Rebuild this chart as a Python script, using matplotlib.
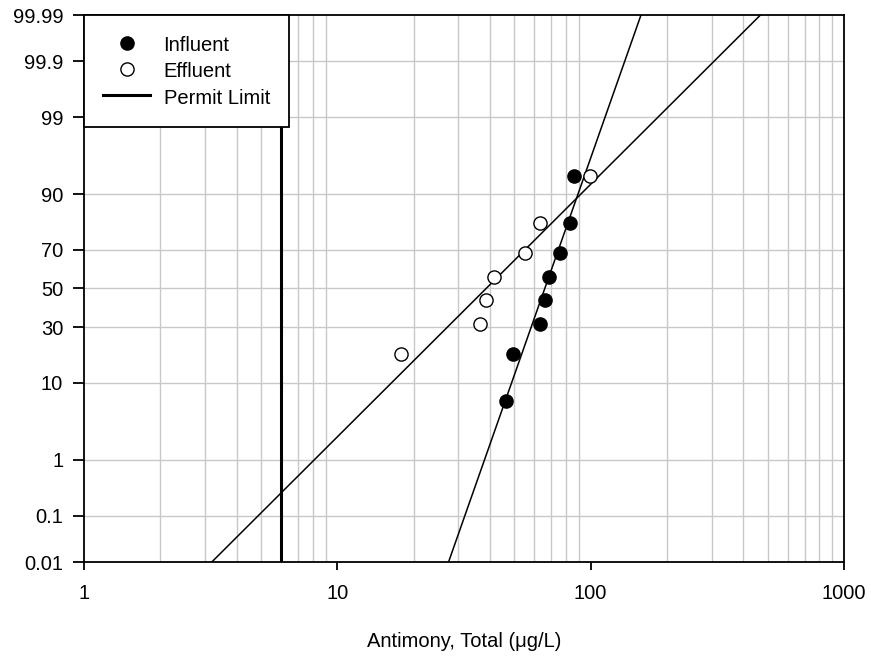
import numpy as np
import matplotlib
matplotlib.use("Agg")
import matplotlib.pyplot as plt
from statistics import NormalDist

plt.rcParams['font.family'] = ['Liberation Sans', 'DejaVu Sans']

# Data (ug/L) and cumulative probability (%)
influent_x = [46.4, 49.4, 63.3, 66.3, 68.3, 75.9, 82.9, 86.0]
influent_p = [6.25, 18.75, 31.25, 43.75, 56.25, 68.75, 81.25, 93.75]
effluent_x = [17.8, 36.6, 38.5, 41.6, 55.3, 63.3, 99.0]
effluent_p = [18.75, 31.25, 43.75, 56.25, 68.75, 81.25, 93.75]
permit_limit = 6.0

y_ticks = [0.01, 0.1, 1, 10, 30, 50, 70, 90, 99, 99.9, 99.99]
y_tick_labels = ["0.01", "0.1", "1", "10", "30", "50", "70", "90", "99", "99.9", "99.99"]
x_ticks = [1, 10, 100, 1000]
x_tick_labels = ["1", "10", "100", "1000"]

nd = NormalDist()
def z(p):
    return np.array([nd.inv_cdf(v / 100.0) for v in np.atleast_1d(p)])

FS = 14.5

fig = plt.figure(figsize=(8.71, 6.62), dpi=100)
ax = fig.add_axes([84/871, 1-562/662, (844-84)/871, (562-15)/662])

ax.set_xscale('log')
ax.set_xlim(1, 1000)
ylo, yhi = z(0.01)[0], z(99.99)[0]
ax.set_ylim(ylo, yhi)

grid_c = '#c8c8c8'
# grid
for dec in [1, 10, 100]:
    for m in range(2, 10):
        ax.axvline(dec*m, color=grid_c, lw=1.0, zorder=0)
for t in z(y_ticks)[1:-1]:
    ax.axhline(t, color=grid_c, lw=1.0, zorder=0)

# fit lines (z on log10 x)
xx = np.logspace(0, 3, 200)
for xs, ps in [(influent_x, influent_p), (effluent_x, effluent_p)]:
    b, a = np.polyfit(np.log10(xs), z(ps), 1)
    ax.plot(xx, a + b*np.log10(xx), color='black', lw=1.1, zorder=2)

ax.plot(influent_x, z(influent_p), 'o', ms=9.5, mfc='black', mec='black', mew=1.0,
        label='Influent', zorder=4)
ax.plot(effluent_x, z(effluent_p), 'o', ms=9.5, mfc='white', mec='black', mew=1.0,
        label='Effluent', zorder=4)
ax.axvline(permit_limit, color='black', lw=2.2, label='Permit Limit', zorder=3)

ax.set_yticks(z(y_ticks))
ax.set_yticklabels(y_tick_labels)
ax.set_xticks(x_ticks)
ax.set_xticklabels(x_tick_labels)
ax.xaxis.set_minor_locator(matplotlib.ticker.NullLocator())
ax.tick_params(axis='y', direction='out', length=8, width=1.3, labelsize=FS, pad=7)
ax.tick_params(axis='x', direction='out', length=6, width=1.3, labelsize=FS, pad=10)
ax.tick_params(top=False, right=False)
for s in ax.spines.values():
    s.set_linewidth(1.3)
    s.set_color('black')

ax.set_xlabel('Antimony, Total (\u03bcg/L)', fontsize=FS, labelpad=21)

leg = ax.legend(loc='upper left', borderaxespad=0, fontsize=FS, frameon=True,
                fancybox=False, edgecolor='black', framealpha=1,
                handlelength=2.35, handleheight=1.2, handletextpad=0.65,
                borderpad=0.95, labelspacing=0.25)
leg.get_frame().set_linewidth(1.3)
leg.set_zorder(10)

fig.savefig('out.png', dpi=100)
